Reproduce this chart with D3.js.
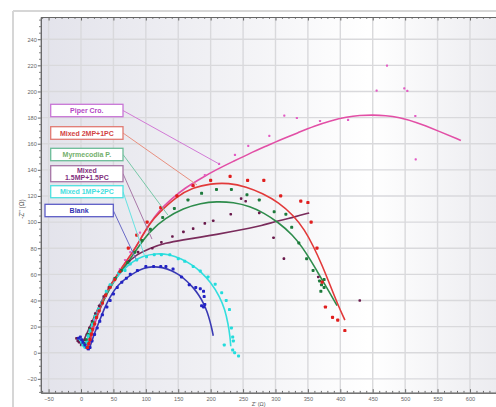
<!DOCTYPE html>
<html><head><meta charset="utf-8">
<script src="https://cdn.jsdelivr.net/npm/d3@7"></script>
<style>body{margin:0;background:#fff;overflow:hidden}svg{display:block}</style>
</head><body>
<svg id="c" width="496" height="407"></svg>
<script>
// ---------- data ----------
const categories = ["Piper Cro.", "Mixed 2MP+1PC", "Myrmecodia P.", "Mixed 1.5MP+1.5PC", "Mixed 1MP+2PC", "Blank"];
const xTickLabels = [-50,0,50,100,150,200,250,300,350,400,450,500,550,600];
const yTickLabels = [-20,0,20,40,60,80,100,120,140,160,180,200,220,240];

const blankPoints = [[-4,11],[-1,12],[1,10],[3,8],[6,6],[9,4],[11,3],[14,4],[17,9],[21,14],[25,19],[29,24],[33,29],[40,35],[45,40],[50,45],[56,50],[63,54],[70,57],[76,60],[87,63],[100,66],[112,66],[123,66],[131,66],[142,64],[155,58],[167,52],[177,50],[184,49],[189,47],[190,43],[186,36],[189,35],[191,37]];
const blankFit = [[12,2],[15,6],[20,14],[29,25],[37,35],[45,43],[57,52],[70.5,57.5],[85,62],[96,64.6],[110,66],[125,65.5],[140,63],[152,59.5],[163,55],[173,50],[182,44],[189,38],[195,31],[199,24],[202,18],[204,13]];

const cyanPoints = [[-1,10],[1,8],[3,6],[5,5],[7,5],[9,8],[11,13],[14,17],[18,22],[22,28],[27,33],[32,38],[39,47],[45,52],[51,56],[58,61],[68,63],[76,68],[86,71],[101,73.5],[113,75],[124,75],[137,75],[150,72],[160,70],[173,66],[184,62.5],[196,58],[207,52.5],[217,46],[224,40],[229,33],[232,19],[234,12],[235,9],[221,6],[234,2],[237,0],[243,-2.5]];
const cyanFit = [[5,3],[9,10],[14,17],[20,26],[30,37],[40,47],[52,56],[65,63.5],[80,70],[95,74],[116,76],[135,75.5],[155,72],[172,67],[185,62],[200,54],[214,43],[222,33],[227,22],[230,12],[231,5]];

const purplePoints = [[-7,11],[-5,9],[-3,8],[0,7],[3,8],[6,10],[9,14],[13,19],[17,24],[22,30],[28,36],[35,43],[43,50],[52,57],[62,63],[74,70],[88,77],[110,80],[124,84.5],[141,89],[158,92.5],[173,95],[191,99],[204,101],[231,106],[247,118],[254,116],[275,107],[297,88],[313,72],[366,58],[430,40]];
const purpleFit = [[-1,5],[5,10],[12,18],[20,27],[30,38],[42,49],[55,59],[70,68],[85,75],[106,80],[130,84],[158,86.5],[185,88.5],[209,90.5],[235,93],[261,95.5],[276,97],[304,101],[330,104],[352,107]];

const greenPoints = [[6,7],[8,10],[11,14],[14,18],[18,23],[22,28],[27,33],[32,38],[38,44],[45,51],[53,57],[62,63],[72,69],[83,77],[94,86],[107,94.5],[126,103.5],[144,110.5],[165,117],[186,122],[209,125],[232,125],[256,121],[275,117],[298,108],[316,106],[325,96],[336,84],[348,72],[358,63],[368,55],[375,56],[371,52],[375,50],[370,47]];
const greenFit = [[8,3],[12,10],[17,18],[24,28],[33,38],[45,50],[58,60],[72,69],[87,80],[106,93],[130,103],[158,110.6],[185,114.5],[209,115.8],[235,115.2],[261,112],[282,107],[304,100],[327,90],[341,81],[354,71],[367,60],[380,49],[395,36]];

const redPoints = [[10,4],[12,7],[14,10],[16,14],[18,18],[21,22],[24,27],[28,32],[33,38],[38,44],[45,50],[52,56],[60,62],[73,80],[86,90],[102,100],[123,111],[148,120],[173,128],[200,132],[230,135],[257,132],[282,132],[308,120],[339,116],[350,115],[355,100],[364,80],[372,54],[377,35],[388,27],[396,25],[407,17]];
const redFit = [[10,2],[13,8],[17,16],[22,25],[29,34],[37,44],[47,53],[60,63],[70,70],[81,78],[93,88],[106,99],[120,107],[147,119.5],[173,126.5],[200,129.5],[228,130],[255,127],[280,122],[305,115],[328,105],[345,94],[358,82],[372,67],[384,52],[396,37],[407,25]];

const pinkPoints = [[8,4],[10,7],[12,10],[15,14],[18,19],[22,25],[27,31],[32,37],[38,43],[45,50],[52,57],[60,64],[68,71],[76,77],[91,92],[171,128],[191,136],[213,144.5],[237.5,151.4],[258,158.3],[290.5,166],[313.6,181.5],[333,179.7],[368.7,177.4],[412,178.2],[456,200.6],[472,219.8],[498.7,202.4],[503.4,200.4],[515.7,181.2],[516.3,148]];
const pinkFit = [[11,2],[14,8],[18,16],[23,25],[30,34],[38,44],[48,53],[60,63],[70,70],[81,78],[93,88],[106,99],[120,108.5],[140,118],[160,126],[185,133.5],[210,140.5],[235,146.5],[260,152.5],[285,158],[310,163.5],[335,168.5],[360,173.5],[385,177.5],[410,180.5],[430,181.7],[450,182],[470,181.6],[490,180.2],[517,176.5],[550,170],[586,162.5]];

// legend connector targets (data coordinates)
const legendTargets = [[213,144.5],[179,128.4],[134,105.4],[109.5,87],[98.7,73.3],[84.8,71.7]];

// ---------- styles / layout ----------
const series = [
  {name:"Piper Cro.", pts:pinkPoints, fit:pinkFit, line:"#e24fa6", dot:"#e35cc4", r:2.2},
  {name:"Mixed 1.5MP+1.5PC", pts:purplePoints, fit:purpleFit, line:"#7a2c5c", dot:"#6a1a4c", r:2.6},
  {name:"Myrmecodia P.", pts:greenPoints, fit:greenFit, line:"#2e8c4c", dot:"#1d7a3c", r:3},
  {name:"Mixed 1MP+2PC", pts:cyanPoints, fit:cyanFit, line:"#33dede", dot:"#22dcdc", r:3},
  {name:"Blank", pts:blankPoints, fit:blankFit, line:"#3a3ab4", dot:"#2222c4", r:3},
  {name:"Mixed 2MP+1PC", pts:redPoints, fit:redFit, line:"#e23a3a", dot:"#e01e1e", r:3.2}
];
const legendStyle = [
  {text:["Piper Cro."], x:50.7, y:104.3, w:72.3, h:12.4, stroke:"#c876d6", fill:"#b447c4", conn:"#d27ad6"},
  {text:["Mixed 2MP+1PC"], x:50.7, y:126.7, w:72.3, h:12.6, stroke:"#e07a72", fill:"#d24444", conn:"#e89080"},
  {text:["Myrmecodia P."], x:50.7, y:148.3, w:72.3, h:12.4, stroke:"#6cbc98", fill:"#74b06c", conn:"#78c8a8"},
  {text:["Mixed","1.5MP+1.5PC"], x:50.7, y:165.7, w:72.3, h:16, stroke:"#a676a6", fill:"#82307e", conn:"#a878a8"},
  {text:["Mixed 1MP+2PC"], x:50.7, y:185.7, w:72.3, h:12, stroke:"#4ee0e0", fill:"#44e0e0", conn:"#66e2e2"},
  {text:["Blank"], x:45, y:204.3, w:68.3, h:12.4, stroke:"#5c5cc6", fill:"#3434b4", conn:"#6a6ac6"}
];

const svg = d3.select("#c");
const plotL = 40.8, plotT = 17, plotB = 392.7, plotR = 496;
const x = d3.scaleLinear().domain([-62, 640]).range([plotL, plotL + 702*0.6483]);
const y = d3.scaleLinear().domain([-30.6, 257]).range([plotB, plotT]);

// frame
svg.append("line").attr("x1",13).attr("x2",13).attr("y1",11).attr("y2",407).attr("stroke","#d6d6d6").attr("stroke-width",2);
svg.append("line").attr("x1",13).attr("x2",496).attr("y1",11).attr("y2",11).attr("stroke","#d6d6d6").attr("stroke-width",2);

// background gradient
const defs = svg.append("defs");
const g1 = defs.append("linearGradient").attr("id","bg").attr("x1","0").attr("x2","1").attr("y1","0").attr("y2","0");
g1.append("stop").attr("offset","0").attr("stop-color","#e3e3eb");
g1.append("stop").attr("offset","0.45").attr("stop-color","#f3f3f6");
g1.append("stop").attr("offset","0.72").attr("stop-color","#ffffff");
g1.append("stop").attr("offset","1").attr("stop-color","#ececf0");
svg.append("rect").attr("x",plotL).attr("y",plotT).attr("width",plotR-plotL).attr("height",plotB-plotT).attr("fill","url(#bg)");
defs.append("clipPath").attr("id","clip").append("rect").attr("x",plotL).attr("y",plotT).attr("width",plotR-plotL).attr("height",plotB-plotT);

// grid
const grid = svg.append("g").attr("stroke","#d9d9dc").attr("stroke-width",1.4);
grid.selectAll("line.v").data(xTickLabels).join("line").attr("class","v")
  .attr("x1",d=>x(d)).attr("x2",d=>x(d)).attr("y1",plotT).attr("y2",plotB);
grid.selectAll("line.h").data(yTickLabels).join("line").attr("class","h")
  .attr("y1",d=>y(d)).attr("y2",d=>y(d)).attr("x1",plotL).attr("x2",plotR);

// axes
const fmt = d3.format("d");
const xMinor = d3.range(-60, 641, 10).filter(v=>v%50!==0);
const yMinor = d3.range(-30, 256, 5).filter(v=>v%20!==0);
function styleAxis(g){
  g.select(".domain").attr("stroke","#666").attr("stroke-width",1);
  g.selectAll(".tick line").attr("stroke","#666");
  g.selectAll(".tick text").attr("fill","#666").style("font-family","Liberation Sans, Arial, sans-serif").style("font-size","5.6px");
}
svg.append("g").attr("transform",`translate(0,${plotB})`)
  .call(d3.axisBottom(x).tickValues(xTickLabels).tickFormat(fmt).tickSize(-3.5).tickSizeOuter(0).tickPadding(4)).call(styleAxis);
svg.append("g").attr("transform",`translate(0,${plotB})`)
  .call(d3.axisBottom(x).tickValues(xMinor).tickFormat("").tickSize(-1.8).tickSizeOuter(0)).call(styleAxis);
svg.append("g").attr("transform",`translate(0,${plotT})`)
  .call(d3.axisTop(x).tickValues(xTickLabels).tickFormat("").tickSize(-3.5).tickSizeOuter(0)).call(styleAxis);
svg.append("g").attr("transform",`translate(0,${plotT})`)
  .call(d3.axisTop(x).tickValues(xMinor).tickFormat("").tickSize(-1.8).tickSizeOuter(0)).call(styleAxis);
svg.append("g").attr("transform",`translate(${plotL},0)`)
  .call(d3.axisLeft(y).tickValues(yTickLabels).tickFormat(fmt).tickSize(3).tickSizeOuter(0).tickPadding(1)).call(styleAxis);
svg.append("g").attr("transform",`translate(${plotL},0)`)
  .call(d3.axisLeft(y).tickValues(yMinor).tickFormat("").tickSize(1.6).tickSizeOuter(0)).call(styleAxis);

// axis titles
svg.append("text").attr("transform",`translate(24,${y(110)}) rotate(-90)`).attr("text-anchor","middle")
  .attr("fill","#555").style("font-family","Liberation Sans, Arial, sans-serif").style("font-size","6.5px").text("-Z'' (Ω)");
svg.append("text").attr("x",x(274)).attr("y",406.3).attr("text-anchor","middle")
  .attr("fill","#555").style("font-family","Liberation Sans, Arial, sans-serif").style("font-size","5.5px").text("Z' (Ω)");

// data
const plot = svg.append("g").attr("clip-path","url(#clip)");
const lineGen = d3.line().x(d=>x(d[0])).y(d=>y(d[1])).curve(d3.curveBasis);
series.forEach(s=>{
  plot.append("path").datum(s.fit).attr("d",lineGen).attr("fill","none").attr("stroke",s.line).attr("stroke-width",1.6);
});
series.forEach(s=>{
  plot.append("g").selectAll("rect").data(s.pts).join("rect")
    .attr("x",d=>x(d[0])-s.r/2).attr("y",d=>y(d[1])-s.r/2).attr("width",s.r).attr("height",s.r)
    .attr("rx",s.r*0.3).attr("fill",s.dot);
});

// legend callouts
const lg = svg.append("g");
legendStyle.forEach((L,i)=>{
  const t = legendTargets[i];
  lg.append("line").attr("x1",L.x+L.w).attr("y1",L.y+L.h/2).attr("x2",x(t[0])).attr("y2",y(t[1]))
    .attr("stroke",L.conn).attr("stroke-width",1);
});
legendStyle.forEach((L,i)=>{
  lg.append("rect").attr("x",L.x).attr("y",L.y).attr("width",L.w).attr("height",L.h)
    .attr("fill","#fff").attr("stroke",L.stroke).attr("stroke-width",1.3);
  const n = L.text.length;
  L.text.forEach((tx,j)=>{
    lg.append("text").attr("x",L.x+L.w/2).attr("y",L.y+L.h/2+(j-(n-1)/2)*7.4)
      .attr("dy","0.36em").attr("text-anchor","middle").attr("fill",L.fill)
      .style("font-family","Liberation Sans, Arial, sans-serif").style("font-weight","bold").style("font-size","7px")
      .text(tx);
  });
});
</script>
</body></html>
